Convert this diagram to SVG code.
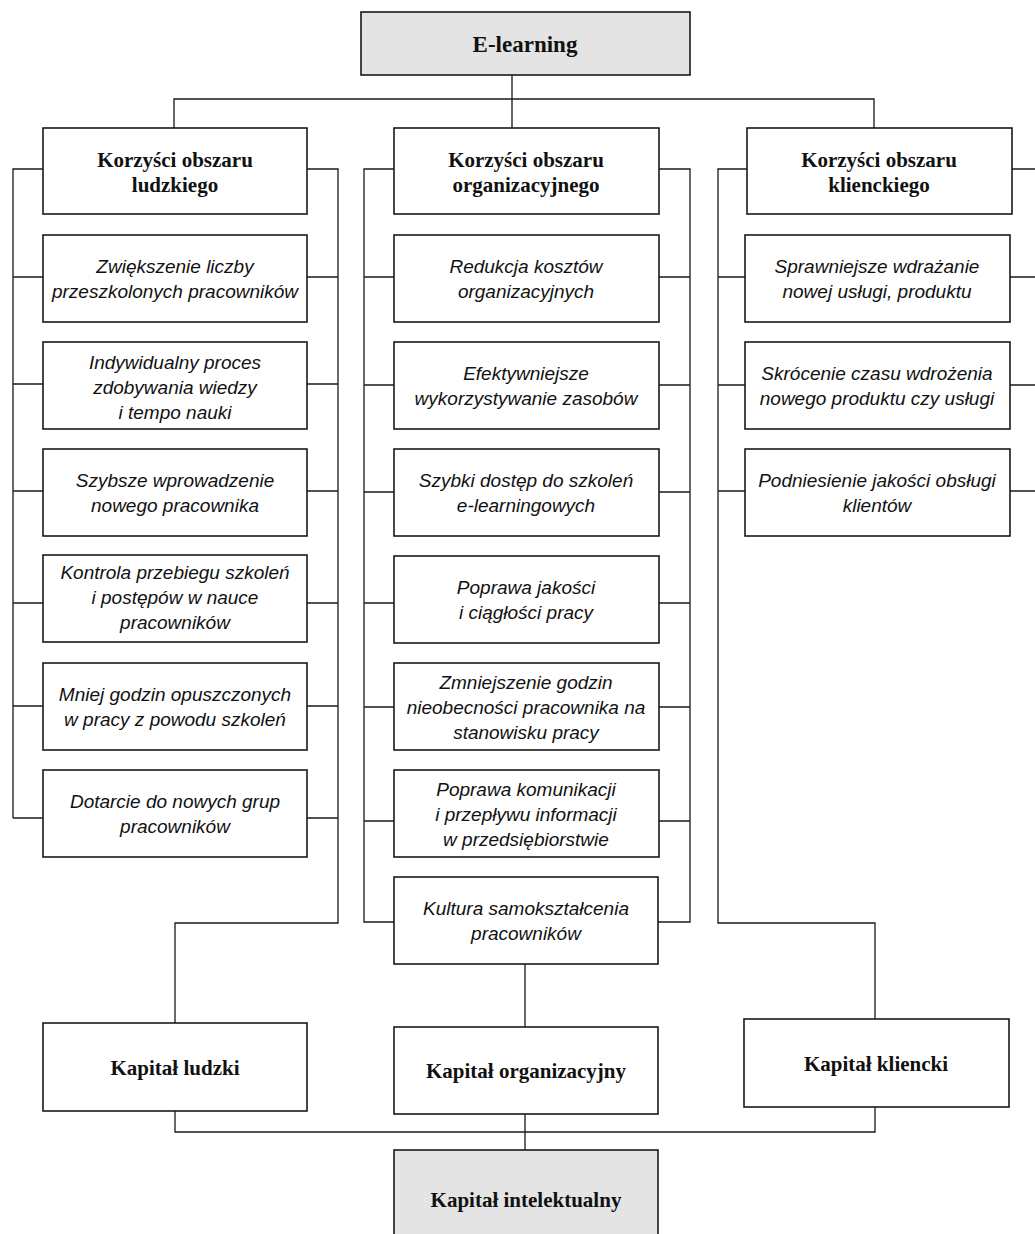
<svg xmlns="http://www.w3.org/2000/svg" width="1035" height="1234" viewBox="0 0 1035 1234">
<style>
.box{fill:#fff;stroke:#1a1a1a;stroke-width:1.6}
.gray{fill:#e3e4e3;stroke:#1a1a1a;stroke-width:1.6}
.b{font-family:"Liberation Serif",serif;font-weight:bold;font-size:21px;fill:#111;text-anchor:middle}
.t{font-family:"Liberation Serif",serif;font-weight:bold;font-size:23px;fill:#111;text-anchor:middle}
.i{font-family:"Liberation Sans",sans-serif;font-style:italic;font-size:19px;fill:#111;text-anchor:middle}
.c{fill:none;stroke:#1a1a1a;stroke-width:1.3}
</style>
<rect width="1035" height="1234" fill="#fff"/>
<g id="connectors" class="c">
<path d="M512 75V128M174 128V99H874V128"/>
<path d="M43 169H13V818M13 277H43M13 384H43M13 491H43M13 603H43M13 706H43M13 818H43"/>
<path d="M307 169H338V923H175V1023M307 277H338M307 384H338M307 491H338M307 603H338M307 706H338M307 818H338"/>
<path d="M394 169H364V922H394M364 277H394M364 385H394M364 492H394M364 603H394M364 707H394M364 821H394"/>
<path d="M659 169H690V922H658M659 277H690M659 385H690M659 492H690M659 603H690M659 707H690M659 821H690"/>
<path d="M747 169H718V923H875V1019M718 277H745M718 385H745M718 491H745"/>
<path d="M1012 169H1035M1010 277H1035M1010 385H1035M1010 491H1035"/>
<path d="M525 964V1027M175 1111V1132H875V1107M525 1114V1150"/>
</g>
<g id="e-learning"><rect class="gray" x="361" y="12" width="329" height="63"/><text class="t" x="525" y="52">E-learning</text></g>
<g id="h-ludzki"><rect class="box" x="43" y="128" width="264" height="86"/><text class="b" x="175" y="167">Korzyści obszaru</text><text class="b" x="175" y="192">ludzkiego</text></g>
<g id="h-org"><rect class="box" x="394" y="128" width="265" height="86"/><text class="b" x="526" y="167">Korzyści obszaru</text><text class="b" x="526" y="192">organizacyjnego</text></g>
<g id="h-kl"><rect class="box" x="747" y="128" width="265" height="86"/><text class="b" x="879" y="167">Korzyści obszaru</text><text class="b" x="879" y="192">klienckiego</text></g>

<g id="l1"><rect class="box" x="43" y="235" width="264" height="87"/><text class="i" x="175" y="273">Zwiększenie liczby</text><text class="i" x="175" y="298">przeszkolonych pracowników</text></g>
<g id="l2"><rect class="box" x="43" y="342" width="264" height="87"/><text class="i" x="175" y="369">Indywidualny proces</text><text class="i" x="175" y="394">zdobywania wiedzy</text><text class="i" x="175" y="419">i tempo nauki</text></g>
<g id="l3"><rect class="box" x="43" y="449" width="264" height="87"/><text class="i" x="175" y="487">Szybsze wprowadzenie</text><text class="i" x="175" y="512">nowego pracownika</text></g>
<g id="l4"><rect class="box" x="43" y="555" width="264" height="87"/><text class="i" x="175" y="579">Kontrola przebiegu szkoleń</text><text class="i" x="175" y="604">i postępów w nauce</text><text class="i" x="175" y="629">pracowników</text></g>
<g id="l5"><rect class="box" x="43" y="663" width="264" height="87"/><text class="i" x="175" y="701">Mniej godzin opuszczonych</text><text class="i" x="175" y="726">w pracy z powodu szkoleń</text></g>
<g id="l6"><rect class="box" x="43" y="770" width="264" height="87"/><text class="i" x="175" y="808">Dotarcie do nowych grup</text><text class="i" x="175" y="833">pracowników</text></g>

<g id="m1"><rect class="box" x="394" y="235" width="265" height="87"/><text class="i" x="526" y="273">Redukcja kosztów</text><text class="i" x="526" y="298">organizacyjnych</text></g>
<g id="m2"><rect class="box" x="394" y="342" width="265" height="87"/><text class="i" x="526" y="380">Efektywniejsze</text><text class="i" x="526" y="405">wykorzystywanie zasobów</text></g>
<g id="m3"><rect class="box" x="394" y="449" width="265" height="87"/><text class="i" x="526" y="487">Szybki dostęp do szkoleń</text><text class="i" x="526" y="512">e-learningowych</text></g>
<g id="m4"><rect class="box" x="394" y="556" width="265" height="87"/><text class="i" x="526" y="594">Poprawa jakości</text><text class="i" x="526" y="619">i ciągłości pracy</text></g>
<g id="m5"><rect class="box" x="394" y="663" width="265" height="87"/><text class="i" x="526" y="689">Zmniejszenie godzin</text><text class="i" x="526" y="714">nieobecności pracownika na</text><text class="i" x="526" y="739">stanowisku pracy</text></g>
<g id="m6"><rect class="box" x="394" y="770" width="265" height="87"/><text class="i" x="526" y="796">Poprawa komunikacji</text><text class="i" x="526" y="821">i przepływu informacji</text><text class="i" x="526" y="846">w przedsiębiorstwie</text></g>
<g id="m7"><rect class="box" x="394" y="877" width="264" height="87"/><text class="i" x="526" y="915">Kultura samokształcenia</text><text class="i" x="526" y="940">pracowników</text></g>

<g id="r1"><rect class="box" x="745" y="235" width="265" height="87"/><text class="i" x="877" y="273">Sprawniejsze wdrażanie</text><text class="i" x="877" y="298">nowej usługi, produktu</text></g>
<g id="r2"><rect class="box" x="745" y="342" width="265" height="87"/><text class="i" x="877" y="380">Skrócenie czasu wdrożenia</text><text class="i" x="877" y="405">nowego produktu czy usługi</text></g>
<g id="r3"><rect class="box" x="745" y="449" width="265" height="87"/><text class="i" x="877" y="487">Podniesienie jakości obsługi</text><text class="i" x="877" y="512">klientów</text></g>

<g id="k-ludzki"><rect class="box" x="43" y="1023" width="264" height="88"/><text class="b" x="175" y="1075">Kapitał ludzki</text></g>
<g id="k-org"><rect class="box" x="394" y="1027" width="264" height="87"/><text class="b" x="526" y="1078">Kapitał organizacyjny</text></g>
<g id="k-kl"><rect class="box" x="744" y="1019" width="265" height="88"/><text class="b" x="876" y="1071">Kapitał kliencki</text></g>
<g id="k-int"><rect class="gray" x="394" y="1150" width="264" height="100"/><text class="b" x="526" y="1207">Kapitał intelektualny</text></g>
</svg>
